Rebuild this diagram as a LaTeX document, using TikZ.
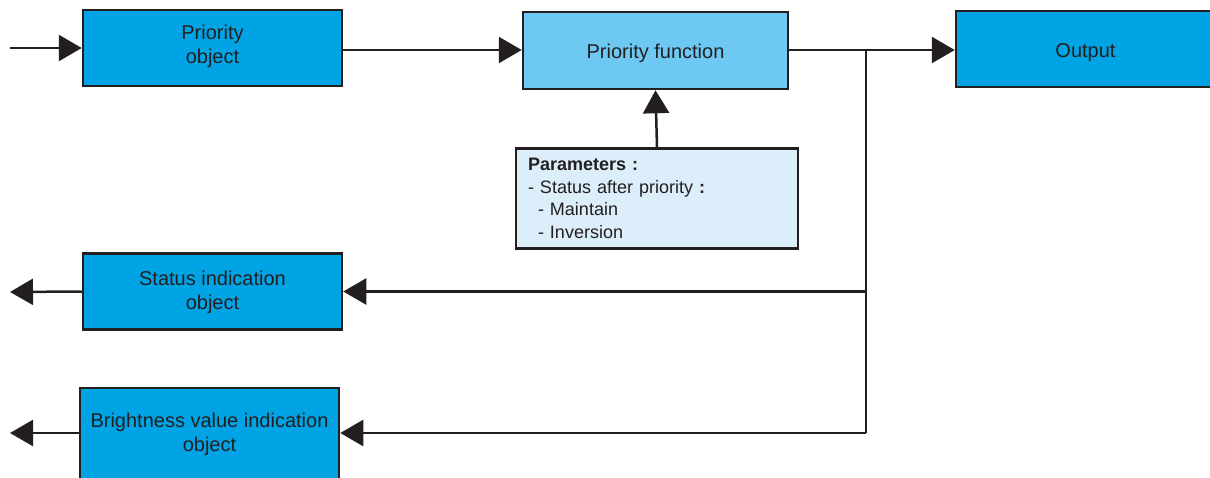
\documentclass[tikz,border=0pt]{standalone}
\usepackage{fontspec}
\setmainfont{Liberation Sans}
\usetikzlibrary{arrows.meta}
\definecolor{boxblue}{HTML}{00A3E4}
\definecolor{funcblue}{HTML}{6DC8F2}
\definecolor{parblue}{HTML}{DCEEFA}
\definecolor{ink}{HTML}{231F20}
\tikzset{
  blk/.style={draw=ink, line width=2.5pt, fill=boxblue, minimum width=259pt, minimum height=76pt, inner sep=0pt, text=ink, font=\fontsize{20}{24}\selectfont, align=center},
  one/.style={text height=20pt, text depth=4pt},
  lbl/.style={text=ink, font=\fontsize{20}{24}\selectfont, align=center},
  conn/.style={draw=ink, line width=2.5pt, -{Triangle[length=23pt,width=26pt]}},
  plain/.style={draw=ink, line width=2.5pt}
}
\begin{document}
\begin{tikzpicture}[x=1pt,y=-1pt]
\useasboundingbox (0,0) rectangle (1210,477);
\begin{scope}
\clip (0,0) rectangle (1210,477);
\node[blk, label={[lbl, yshift=2pt]center:Priority\\object}] (po) at (212.5,48) {};
\node[blk, one, fill=funcblue, minimum width=265pt, minimum height=77pt] (pf) at (655.5,50.5) {Priority function};
\node[blk, one] (out) at (1085.5,49) {Output};
\node[draw=ink, line width=2.5pt, fill=parblue, minimum width=282pt, minimum height=100pt, text width=258pt, inner xsep=12pt, align=left, text=ink, font=\fontsize{18}{22.5}\selectfont] (par) at (657,198.5)
  {\textbf{Parameters :}\\- Status after priority \textbf{:}\\\hspace*{10pt}- Maintain\\\hspace*{10pt}- Inversion};
\node[blk, label={[lbl, yshift=-1pt]center:Status indication\\object}] (st) at (212.5,291.5) {};
\node[blk, minimum height=100pt, label={[lbl, yshift=4pt]center:Brightness value indication\\object}] (br) at (209.5,438) {};

\coordinate (in) at (10,48);
\coordinate (so) at (10,292);
\coordinate (bo) at (10,433);
\coordinate (j) at (866,50);
\coordinate (bj) at (866,433);

\draw[conn] (in) -- (po.west);
\draw[conn] (po.east |- 0,50) -- (pf.west |- 0,50);
\draw[conn] (pf.east |- 0,50) -- (out.west |- 0,50);
\draw[conn] (par.north) -- (pf.south);
\draw[plain] (j) -- (bj);
\draw[conn] (j |- st.east) -- (st.east);
\draw[conn] (bj) -- (br.east |- bj);
\draw[conn] (st.west) -- (so);
\draw[conn] (br.west |- bo) -- (bo);
\end{scope}
\end{tikzpicture}
\end{document}
